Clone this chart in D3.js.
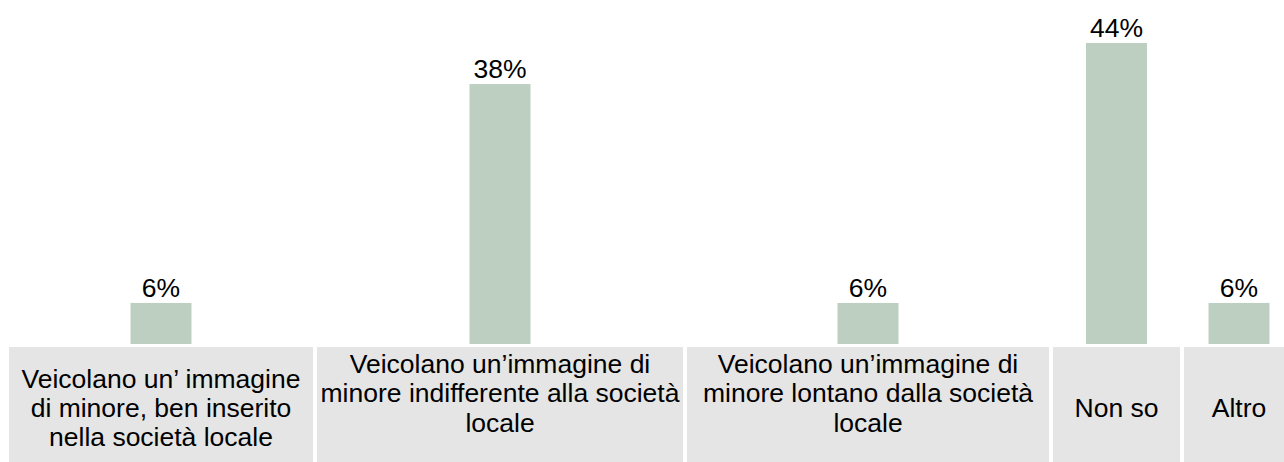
<!DOCTYPE html>
<html>
<head>
<meta charset="utf-8">
<script src="https://cdn.jsdelivr.net/npm/d3@7"></script>
<style>
  html, body { margin: 0; padding: 0; background: #fff; }
  svg { display: block; }
  text { font-family: "Liberation Sans", Arial, sans-serif; fill: #000; }
</style>
</head>
<body>
<svg id="chart" width="1284" height="462"></svg>
<script>
// Answer categories (line breaks as they appear in the category cells)
const categories = [
  "Veicolano un’ immagine\ndi minore, ben inserito\nnella società locale",
  "Veicolano un’immagine di\nminore indifferente alla società\nlocale\n",
  "Veicolano un’immagine di\nminore lontano dalla società\nlocale\n",
  "Non so",
  "Altro"
];
// Share of responses, percent
const values = [6, 38, 6, 44, 6];
const valueLabels = ["6%", "38%", "6%", "44%", "6%"];

// Layout
const W = 1284, H = 462;
const slotWidths = [308, 370, 366, 131, 114];   // width of each category column
const left = 7, cellGap = 4;
const baseY = 344, cellTop = 347, cellBottom = 462;
const barWidth = 61, fontSize = 26.5, lineH = 29.3, cellTextCenter = 407.5;

const starts = slotWidths.map((w, i) => left + d3.sum(slotWidths.slice(0, i)));
const xStart = d3.scaleOrdinal(categories, starts);
const xWidth = d3.scaleOrdinal(categories, slotWidths);
const xCenter = c => xStart(c) + xWidth(c) / 2;

const y = d3.scaleLinear().domain([0, 44]).range([baseY, 43]);

const svg = d3.select("#chart");

// Category cells
const cells = svg.append("g").selectAll("g").data(categories).join("g");
cells.append("rect")
  .attr("x", d => xStart(d) + cellGap / 2)
  .attr("y", cellTop)
  .attr("width", d => xWidth(d) - cellGap)
  .attr("height", cellBottom - cellTop)
  .attr("fill", "#e5e5e5");

cells.each(function(d) {
  const lines = d.split("\n");
  const n = lines.length;
  const t = d3.select(this).append("text")
    .attr("text-anchor", "middle")
    .attr("font-size", fontSize);
  lines.forEach((ln, i) => {
    const cy = cellTextCenter + (i - (n - 1) / 2) * lineH;
    t.append("tspan")
      .attr("x", xCenter(d))
      .attr("y", cy + fontSize * 0.36)
      .text(ln);
  });
});

// Bars
const data = categories.map((c, i) => ({ c, v: values[i], label: valueLabels[i] }));
svg.append("g").selectAll("rect").data(data).join("rect")
  .attr("x", d => xCenter(d.c) - barWidth / 2)
  .attr("y", d => y(d.v))
  .attr("width", barWidth)
  .attr("height", d => y(0) - y(d.v))
  .attr("fill", "#bdcfc1");

// Value labels
svg.append("g").selectAll("text").data(data).join("text")
  .attr("x", d => xCenter(d.c))
  .attr("y", d => y(d.v) - 6)
  .attr("text-anchor", "middle")
  .attr("font-size", fontSize)
  .text(d => d.label);
</script>
</body>
</html>
